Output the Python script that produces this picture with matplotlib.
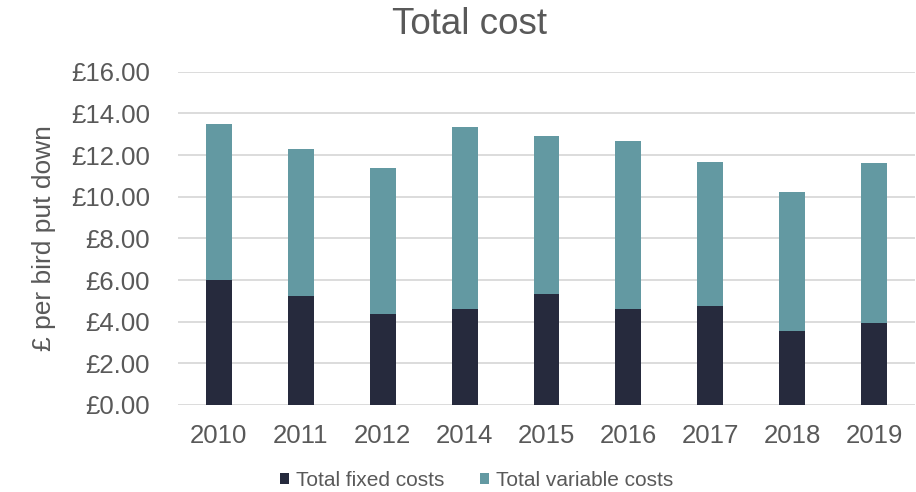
"""
total cost per bird put down, fixed vs variable, stacked bars
"""
import matplotlib.pyplot as plt
from matplotlib.ticker import FuncFormatter

years = ["2010", "2011", "2012", "2014", "2015", "2016", "2017", "2018", "2019"]
fixed_costs = [5.99, 5.22, 4.37, 4.61, 5.31, 4.62, 4.74, 3.56, 3.92]
total_costs = [13.48, 12.31, 11.36, 13.37, 12.92, 12.68, 11.65, 10.21, 11.62]
variable_costs = [t - f for t, f in zip(total_costs, fixed_costs)]

plt.rcParams["font.family"] = ["Liberation Sans", "DejaVu Sans"]
text_col = "#595959"
dark = "#262a3d"
teal = "#6399a2"

fig = plt.figure(figsize=(9.16, 4.92), dpi=100)
ax = fig.add_axes([0.1943, 0.177, 0.8046, 0.677])

x = range(len(years))
ax.bar(x, fixed_costs, width=0.317, color=dark, label="Total fixed costs", zorder=3)
ax.bar(x, variable_costs, width=0.317, bottom=fixed_costs, color=teal,
       label="Total variable costs", zorder=3)

ax.set_ylim(0, 16)
ax.set_xlim(-0.5, len(years) - 0.5)
ax.set_yticks(range(0, 17, 2))
ax.yaxis.set_major_formatter(FuncFormatter(lambda v, _: f"£{v:.2f}"))
ax.set_xticks(list(x))
ax.set_xticklabels(years)
ax.grid(axis="y", color="#d9d9d9", linewidth=1.3, zorder=0)
ax.tick_params(axis="both", length=0, labelsize=18.5, colors=text_col)
ax.tick_params(axis="x", pad=14)
ax.tick_params(axis="y", pad=20)
for s in ax.spines.values():
    s.set_visible(False)

ax.set_ylabel("£ per bird put down", fontsize=19, color=text_col, labelpad=11)
fig.suptitle("Total cost", fontsize=26.5, color=text_col, x=0.513, y=0.985)

fig.legend(loc="center", bbox_to_anchor=(0.52, 0.024), ncol=2, frameon=False,
           fontsize=15, labelcolor=text_col, handlelength=0.45, handleheight=0.45,
           handletextpad=0.32, columnspacing=1.7)

fig.savefig("out.png", dpi=100)
